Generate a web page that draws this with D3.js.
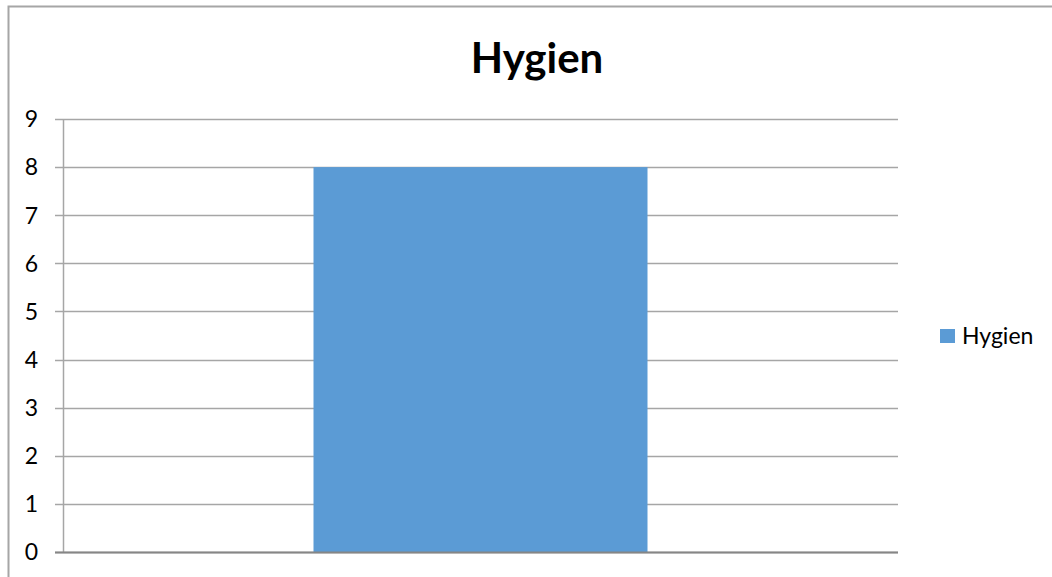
<!DOCTYPE html>
<html>
<head>
<meta charset="utf-8">
<script src="https://cdn.jsdelivr.net/npm/d3@7"></script>
<style>
  body { margin: 0; background: #fff; }
  svg { display: block; font-family: Lato, "Open Sans", sans-serif; }
</style>
</head>
<body>
<div id="chart-area"></div>
<script>
var categories = ["Hygien"];
var values = [8];
var seriesName = "Hygien";
var yTicks = [0, 1, 2, 3, 4, 5, 6, 7, 8, 9];

var margin = { left: 63, top: 119, right: 154, bottom: 25 };
var width = 1052 - margin.left - margin.right;
var height = 577 - margin.top - margin.bottom;

var svg = d3.select('#chart-area')
    .append("svg")
    .attr("width", 1052)
    .attr("height", 577);

// outer border (runs off the right / bottom edge)
svg.append("rect")
    .attr("x", 8.5)
    .attr("y", 6.5)
    .attr("width", 1060)
    .attr("height", 600)
    .attr("fill", "none")
    .attr("stroke", "#a6a6a6")
    .attr("stroke-width", 2);

// title
svg.append("text")
    .attr("x", 537)
    .attr("y", 73)
    .attr("text-anchor", "middle")
    .attr("style", "font-size: 42px; font-weight: bold")
    .attr("fill", "#000")
    .text(seriesName);

var g = svg.append("g")
    .attr("transform", "translate(" + margin.left + "," + margin.top + ")");

var x = d3.scaleBand()
    .domain(categories)
    .range([0, width])
    .paddingInner(0.6)
    .paddingOuter(0.3);

var y = d3.scaleLinear()
    .domain([0, 9])
    .range([height, 0]);

// gridlines
g.selectAll(".grid")
    .data(yTicks)
    .enter()
    .append("line")
    .attr("class", "grid")
    .attr("x1", -8)
    .attr("x2", width)
    .attr("y1", d => Math.round(y(d)) + 0.5)
    .attr("y2", d => Math.round(y(d)) + 0.5)
    .attr("stroke", "#a6a6a6")
    .attr("stroke-width", 1.5);

// bars
g.selectAll("rect.bar")
    .data(values)
    .enter()
    .append("rect")
    .attr("class", "bar")
    .attr("x", (d, i) => x(categories[i]))
    .attr("y", d => y(d))
    .attr("width", x.bandwidth())
    .attr("height", d => height - y(d))
    .attr("fill", "#5b9bd5");

// y axis line
g.append("line")
    .attr("x1", 0.5)
    .attr("x2", 0.5)
    .attr("y1", 0)
    .attr("y2", height)
    .attr("stroke", "#a6a6a6")
    .attr("stroke-width", 1.5);

// baseline
g.append("line")
    .attr("x1", -8)
    .attr("x2", width)
    .attr("y1", height + 0.5)
    .attr("y2", height + 0.5)
    .attr("stroke", "#868686")
    .attr("stroke-width", 2);

// y labels
g.selectAll(".ylabel")
    .data(yTicks)
    .enter()
    .append("text")
    .attr("class", "ylabel")
    .attr("x", -25)
    .attr("y", d => y(d))
    .attr("dy", "0.36em")
    .attr("text-anchor", "end")
    .attr("style", "font-size: 23px")
    .attr("fill", "#000")
    .text(d => d);

// legend
var legend = svg.append("g")
    .attr("transform", "translate(940, 329)");

legend.append("rect")
    .attr("width", 15)
    .attr("height", 14)
    .attr("fill", "#5b9bd5");

legend.append("text")
    .attr("x", 22)
    .attr("y", 15)
    .attr("style", "font-size: 23px")
    .attr("fill", "#000")
    .text(seriesName);
</script>
</body>
</html>
